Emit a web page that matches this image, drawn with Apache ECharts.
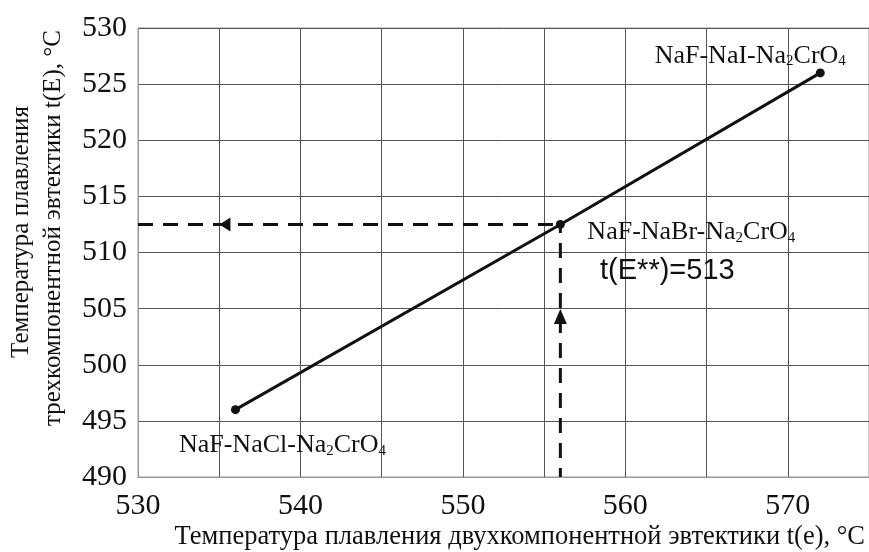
<!DOCTYPE html>
<html>
<head>
<meta charset="utf-8">
<script src="https://cdn.jsdelivr.net/npm/echarts@6/dist/echarts.min.js"></script>
<style>
  html, body { margin: 0; padding: 0; background: #fff; }
  #chart { width: 869px; height: 552px; }
</style>
</head>
<body>
<div id="chart"></div>
<script>
// температуры: двойная эвтектика (x) -> тройная эвтектика (y)
const tBinary = [536, 556, 572];
const tTernary = [496, 512.5, 526];
const systemNames = [
    'NaF-NaCl-Na{s|2}CrO{s|4}',
    'NaF-NaBr-Na{s|2}CrO{s|4}',
    'NaF-NaI-Na{s|2}CrO{s|4}'
];
const resultText = 't(E**)=513';

// пунктир считывания для NaF-NaBr-Na2CrO4
const hDash = [[530, 512.5], [556, 512.5]];
const vDash = [[556, 490], [556, 512.5]];
const arrowLeft = [[535.35, 512.5]];
const arrowUp = [[556, 504.3]];

const xTitle = 'Температура плавления двухкомпонентной эвтектики t(e), °C';
const yTitle1 = 'Температура плавления';
const yTitle2 = 'трехкомпонентной эвтектики t(E), °C';

const serif = '"Liberation Serif", "Times New Roman", serif';
const ink = '#111';

const richSub = {
    n: { fontFamily: serif, fontSize: 26, color: ink, lineHeight: 26 },
    s: { fontFamily: serif, fontSize: 15, color: ink, lineHeight: 15, verticalAlign: 'bottom', padding: [15, 0, 0, 0] }
};

// смещения подписей относительно точек (px)
const labelOffsets = [[47, 36], [131, 8], [-70, -17]];

const chart = echarts.init(document.getElementById('chart'));

const pointData = tBinary.map((x, i) => ({
    value: [x, tTernary[i]],
    label: {
        show: true,
        position: 'inside',
        offset: labelOffsets[i],
        color: ink,
        textBorderWidth: 0,
        formatter: systemNames[i].replace(/^([^{]+)/, '{n|$1}').replace(/\}([^{]+)\{/g, '}{n|$1}{'),
        rich: richSub
    }
}));

const solid = { color: '#111', opacity: 1 };

const option = {
    animation: false,
    backgroundColor: '#fff',
    grid: { left: 138, right: 0, top: 28, bottom: 75, show: true, borderColor: '#999', borderWidth: 1, outerBoundsMode: 'none' },
    xAxis: {
        type: 'value',
        min: 530,
        max: 575,
        interval: 5,
        axisLine: { show: true, lineStyle: { color: '#999', width: 1 } },
        axisTick: { show: false },
        splitLine: { show: true, lineStyle: { color: '#555', width: 1 } },
        axisLabel: {
            margin: 14,
            fontFamily: serif,
            fontSize: 30,
            color: ink,
            formatter: v => (v % 10 === 0 && v < 575 ? String(v) : '')
        }
    },
    yAxis: {
        type: 'value',
        min: 490,
        max: 530,
        interval: 5,
        axisLine: { show: true, lineStyle: { color: '#999', width: 1 } },
        axisTick: { show: false },
        splitLine: { show: true, lineStyle: { color: '#555', width: 1 } },
        axisLabel: { margin: 11, fontFamily: serif, fontSize: 30, color: ink }
    },
    series: [
        {
            name: 'hDash',
            type: 'line',
            data: hDash,
            symbol: 'none',
            lineStyle: { color: '#111', width: 3, type: [15, 10] },
            z: 3
        },
        {
            name: 'vDash',
            type: 'line',
            data: vDash,
            symbol: 'none',
            lineStyle: { color: '#111', width: 3, type: [15, 10], dashOffset: 6 },
            z: 3
        },
        {
            name: 'arrowLeft',
            type: 'scatter',
            data: arrowLeft,
            symbol: 'triangle',
            symbolSize: [14, 11],
            symbolRotate: 90,
            itemStyle: solid,
            z: 4
        },
        {
            name: 'arrowUp',
            type: 'scatter',
            data: arrowUp,
            symbol: 'triangle',
            symbolSize: [13, 15],
            itemStyle: solid,
            z: 4
        },
        {
            name: 'line',
            type: 'line',
            data: tBinary.map((x, i) => [x, tTernary[i]]),
            symbol: 'none',
            lineStyle: { color: '#111', width: 3 },
            z: 5
        },
        {
            name: 'points',
            type: 'scatter',
            data: pointData,
            symbol: 'circle',
            symbolSize: 9,
            itemStyle: solid,
            z: 6
        },
        {
            name: 'result',
            type: 'scatter',
            data: [[tBinary[1], tTernary[1]]],
            symbolSize: 0,
            itemStyle: solid,
            label: {
                show: true,
                position: 'inside',
                offset: [107, 47],
                formatter: resultText,
                fontFamily: '"Liberation Sans", Arial, sans-serif',
                fontSize: 29,
                color: ink,
                textBorderWidth: 0
            },
            z: 6
        }
    ],
    graphic: [
        {
            type: 'text',
            x: 865,
            y: 537,
            style: { text: xTitle, font: '26.5px ' + serif, fill: ink, textAlign: 'right', textVerticalAlign: 'middle' }
        },
        {
            type: 'text',
            x: 21,
            y: 232,
            rotation: Math.PI / 2,
            style: { text: yTitle1, font: '25px ' + serif, fill: ink, textAlign: 'center', textVerticalAlign: 'middle' }
        },
        {
            type: 'text',
            x: 53,
            y: 228,
            rotation: Math.PI / 2,
            style: { text: yTitle2, font: '25px ' + serif, fill: ink, textAlign: 'center', textVerticalAlign: 'middle' }
        }
    ]
};

chart.setOption(option);
</script>
</body>
</html>
